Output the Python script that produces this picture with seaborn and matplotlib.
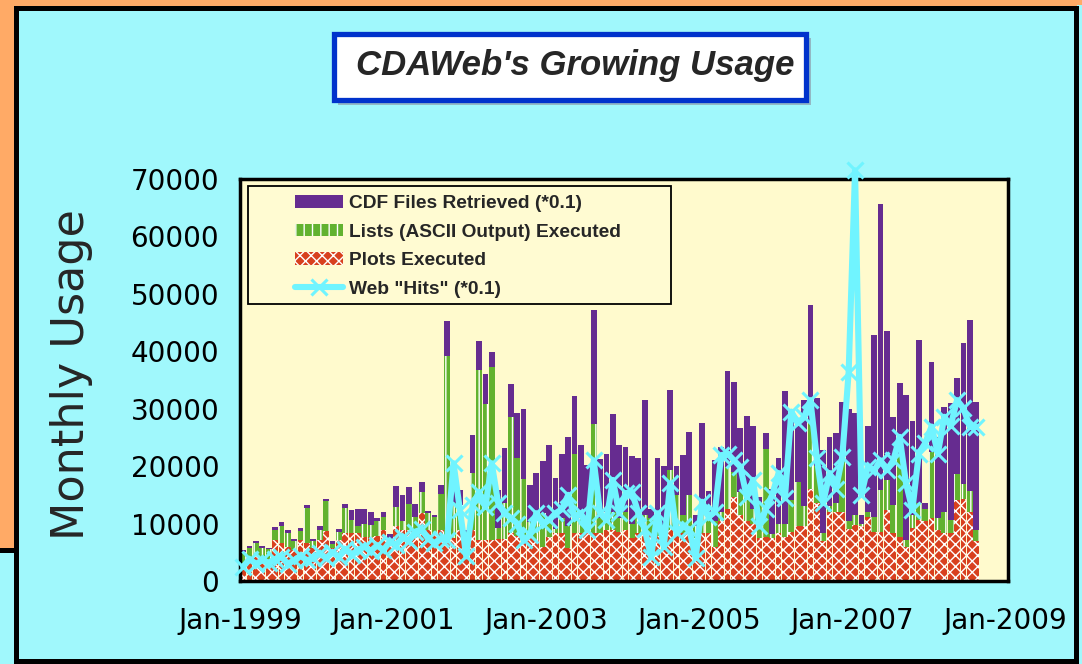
import numpy as np
import seaborn as sns
import matplotlib.pyplot as plt
from matplotlib.patches import Rectangle, Patch
from matplotlib.lines import Line2D

# monthly values, Jan 1999 .. Aug 2008
plots = [3100, 3600, 4400, 3900, 3900, 7100, 6600, 6000, 5400, 7100, 6600, 5800,
         7100, 8700, 5800, 7100, 8300, 8300, 8300, 7600, 7600, 7800, 8900, 7300,
         9600, 8900, 8900, 9000, 11800, 8900, 8000, 8900, 7100, 7500, 8900, 8300,
         8900, 7100, 7100, 7100, 7400, 7400, 8300, 7900, 7900, 8300, 7100, 6000,
         7600, 8300, 8300, 5700, 8300, 8300, 8300, 8300, 8300, 8900, 8900, 8500,
         8900, 7500, 8300, 8900, 8300, 7800, 7100, 8900, 8300, 8300, 9500, 7500,
         8300, 8300, 6000, 10500, 12500, 14700, 11500, 10500, 10000, 7500, 7700, 7500,
         8300, 7700, 8500, 9500, 9500, 16100, 13500, 6900, 12000, 12000, 12100, 9000,
         9800, 9500, 11200, 8600, 8600, 12400, 8300, 7700, 6000, 9200, 10600, 10500,
         11000, 8900, 8300, 8300, 14100, 14200, 12100, 6900]
lists = [2000, 2200, 2200, 1900, 1600, 1800, 3000, 2400, 1600, 1600, 6100, 1200,
         1800, 5300, 700, 1400, 4400, 2300, 1200, 2300, 2200, 2600, 2200, 100,
         3200, 1600, 4500, 2200, 3700, 2900, 3200, 6200, 32000, 6000, 4400, 200,
         9900, 29600, 23800, 30200, 1800, 6100, 20300, 13600, 9800, 2000, 5000, 5800,
         2900, 700, 2700, 3800, 13800, 2700, 1700, 19000, 2700, 3100, 3100, 2500,
         3100, 2500, 4200, 2600, 2700, 2700, 1900, 10500, 6700, 3200, 5500, 2000,
         3700, 2700, 4500, 1500, 7400, 4300, 4000, 5500, 2500, 6000, 15200, 700,
         1700, 2300, 5600, 7700, 3500, 11900, 6500, 1400, 1000, 1500, 9900, 1500,
         1700, 500, 800, 2600, 7200, 5200, 4900, 14200, 1100, 2300, 2900, 2000,
         11500, 2000, 3800, 2300, 4500, 2700, 3500, 2000]
cdf_files = [300, 300, 400, 300, 300, 500, 600, 500, 400, 500, 500, 400,
             600, 300, 400, 500, 700, 1800, 3000, 2600, 2200, 500, 900, 700,
             3800, 4500, 3000, 2200, 1700, 400, 300, 1600, 6100, 2400, 2500, 400,
             6700, 5100, 5200, 2600, 6600, 9700, 5700, 7700, 12200, 6500, 6700, 9100,
             13100, 9000, 11100, 15600, 10200, 12600, 10200, 19900, 10200, 10100, 17100, 12600,
             11400, 11800, 9000, 20100, 1500, 11000, 11000, 13800, 5000, 10400, 11000, 2000,
             15500, 4600, 10500, 11400, 16600, 15700, 11100, 12800, 14500, 1200, 2900, 7800,
             11500, 23100, 13600, 10400, 18500, 20000, 11800, 14500, 12100, 12200, 9200, 19500,
             17700, 1500, 15000, 31600, 49900, 26000, 15400, 12500, 25300, 16400, 28400, 1000,
             15700, 14100, 18200, 20400, 16800, 24600, 29800, 22300]
web_hits = [2500, 3800, 3000, 3600, 3200, 3800, 4200, 3000, 3600, 4400, 3600, 4000,
            4800, 4000, 5000, 4200, 5600, 4600, 5400, 6000, 5200, 6200, 5400, 6800,
            6300, 7600, 7000, 8600, 9000, 7400, 6600, 7400, 7200, 20500, 12400, 4300,
            13200, 15500, 12900, 20500, 13600, 11800, 11000, 10000, 7100, 8000, 11800, 10000,
            10600, 11800, 12500, 15000, 11200, 11800, 8900, 21000, 11800, 10600, 17600, 11800,
            15300, 15500, 11800, 9000, 4200, 11800, 6000, 17000, 8300, 9500, 9000, 4000,
            13800, 11200, 12000, 21900, 22200, 21000, 19900, 14700, 17600, 9500, 12500, 15000,
            18800, 14400, 29500, 27500, 28500, 31500, 21400, 13600, 18800, 16000, 21600, 36400,
            71500, 15000, 19900, 19300, 21000, 19300, 21000, 25100, 17000, 12400, 22200, 24000,
            26900, 22200, 28600, 27000, 31500, 30100, 26900, 26900]
year_labels = ['Jan-1999', 'Jan-2001', 'Jan-2003', 'Jan-2005', 'Jan-2007', 'Jan-2009']
legend_labels = ['CDF Files Retrieved (*0.1)', 'Lists (ASCII Output) Executed',
                 'Plots Executed', 'Web "Hits" (*0.1)']

purple = '#662C90'
green = '#62B22F'
red = '#D8401E'
cyan = '#70F4FF'

sns.set_style('white')
plt.rcParams['font.family'] = ['DejaVu Sans']
plt.rcParams['hatch.color'] = 'white'
plt.rcParams['hatch.linewidth'] = 1.0

W, H = 1082, 664
fig = plt.figure(figsize=(W / 100, H / 100), dpi=100, facecolor='#FFAA66')


def px_rect(x0, y0, x1, y1, **kw):
    r = Rectangle((x0 / W, 1 - y1 / H), (x1 - x0) / W, (y1 - y0) / H,
                  transform=fig.transFigure, **kw)
    fig.add_artist(r)
    return r


# slide background
px_rect(0, 551, 15, 664, facecolor='#A0F8FC', edgecolor='none', zorder=-10)
px_rect(0, 548, 15, 553, facecolor='black', edgecolor='none', zorder=-9)
px_rect(1077, 5, 1082, 664, facecolor='#A0F8FC', edgecolor='none', zorder=-10)
px_rect(16, 8, 1076, 661, facecolor='#A0F8FC', edgecolor='black', linewidth=3.6, zorder=-8)

# title box
px_rect(338, 38, 811, 105, facecolor='#93B9C4', edgecolor='none', zorder=-3)
px_rect(334, 34, 806, 100, facecolor='white', edgecolor='#0033CC', linewidth=3.8, zorder=-2)
fig.text(575 / W, 1 - 66 / H, "CDAWeb's Growing Usage", fontsize=25, fontweight='bold',
         fontstyle='italic', family='Liberation Sans', ha='center', va='center')

ax = fig.add_axes([240 / W, 1 - 581 / H, 768 / W, 402 / H])
ax.set_facecolor('#FFFACD')

idx = np.arange(len(plots))
red_top = np.array(plots)
green_top = red_top + np.array(lists)
total = green_top + np.array(cdf_files)

sns.barplot(x=idx, y=total, color=purple, saturation=1, width=0.9,
            linewidth=0, errorbar=None, ax=ax)
sns.barplot(x=idx, y=green_top, color=green, saturation=1, width=0.9, hatch='||',
            edgecolor='white', linewidth=0, errorbar=None, ax=ax)
sns.barplot(x=idx, y=red_top, color=red, saturation=1, width=0.9, hatch='xxx',
            edgecolor='white', linewidth=0, errorbar=None, ax=ax)
sns.lineplot(x=idx, y=web_hits, color=cyan, lw=4.4, marker='x', markersize=12,
             markeredgewidth=2.2, markeredgecolor=cyan, clip_on=False, zorder=4, ax=ax)

ax.set_xlim(-0.5, 120)
ax.set_ylim(0, 70000)
ax.set_xticks([-0.5 + 12 * k for k in range(11)])
ax.set_xticklabels([year_labels[k // 2] if k % 2 == 0 else '' for k in range(11)])
ax.set_yticks(range(0, 70001, 10000))
ax.set_yticklabels([str(v) for v in range(0, 70001, 10000)])
ax.set_xlabel('')
ax.set_ylabel('')
ax.tick_params(axis='both', direction='out', length=6, width=1, color='black',
               labelsize=20, labelcolor='black')
ax.tick_params(axis='x', pad=13)
ax.tick_params(axis='y', pad=9)
for s in ax.spines.values():
    s.set_color('black')
    s.set_linewidth(2.5)

fig.text(72 / W, 1 - 375 / H, 'Monthly Usage', rotation=90, fontsize=32,
         ha='center', va='center')

# legend
ax.add_patch(Rectangle((248 / W, 1 - 304 / H), 423 / W, 118 / H, transform=fig.transFigure,
                       facecolor='#FFFBD2', edgecolor='black', linewidth=1.3, zorder=3))
handles = [Patch(facecolor=purple, edgecolor='none'),
           Patch(facecolor=green, hatch='||', edgecolor='white', linewidth=0),
           Patch(facecolor=red, hatch='xxx', edgecolor='white', linewidth=0),
           Line2D([], [], color=cyan, lw=4.4, marker='x', markersize=12, markeredgewidth=2.2)]
leg = ax.legend(handles, legend_labels, loc='upper left', bbox_to_anchor=(295 / W, 1 - 195 / H),
                bbox_transform=fig.transFigure, frameon=False,
                prop={'family': 'Liberation Sans', 'weight': 'bold', 'size': 13.8},
                handlelength=2.5, handleheight=0.65, handletextpad=0.3, labelspacing=0.6,
                borderpad=0, borderaxespad=0)
leg.set_zorder(6)

fig.savefig('out.png', dpi=100, facecolor=fig.get_facecolor())
